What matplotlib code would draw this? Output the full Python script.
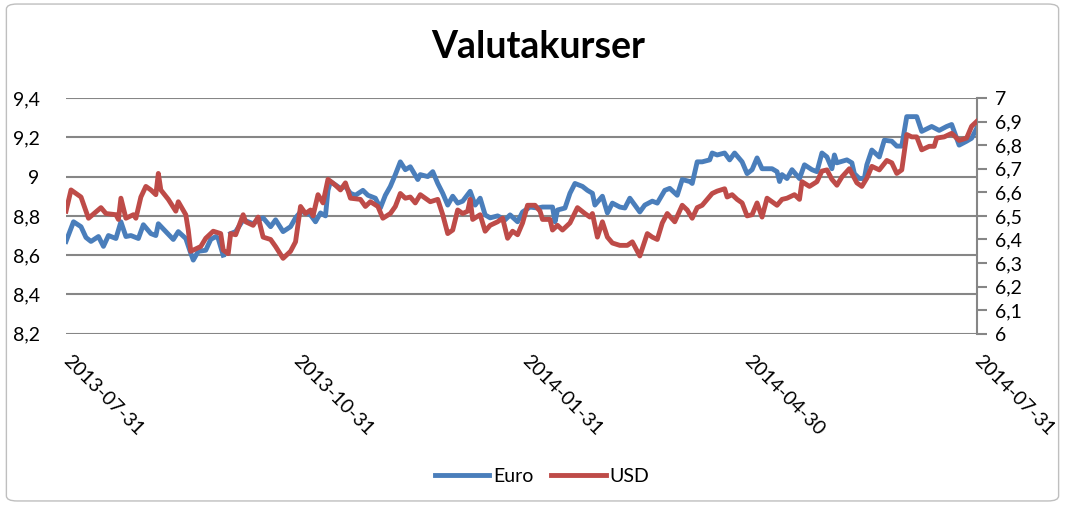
#!/usr/bin/env python3

""" Valutakurser: Euro (left axis) and USD (right axis) in SEK,
    2013-07-31 to 2014-07-31, drawn in the old Excel line-chart style.
"""

import matplotlib

matplotlib.use("Agg")

import matplotlib.pyplot as plt
import matplotlib.dates as mdates
import matplotlib.transforms as mtransforms
from matplotlib.patches import FancyBboxPatch
from matplotlib.ticker import FuncFormatter, MultipleLocator
import numpy as np
import pandas as pd

plt.rcParams["font.family"] = ["Lato", "DejaVu Sans"]

START = "2013-07-31"
tick_dates = ["2013-07-31", "2013-10-31", "2014-01-31", "2014-04-30", "2014-07-31"]

# days after START, and rate (SEK per EUR); nan = missing quote
euro_days = [0, 3, 6, 8, 10, 13, 15, 17, 20, 22, 24, 26, 29, 31, 34, 36, 37, 40,
             43, 45, 48, 50, 51, 53, 56, 58, 60, 61, 63, 64, 66, 68, 71, 75, 77,
             79, 82, 84, 87, 90, 92, 94, 95, 98, 100, 102, 104, 105, 106, 110,
             112, 114, 116, 119, 121, 124, 126, 128, 130, 132, 134, 136, 138,
             141, 142, 145, 147, 149, 151, 153, 155, 157, 159, 162, 164, 166,
             168, 170, 173, 176, 178, 181, 183, 186, 189, 191, 195, 196, 197,
             200, 202, 204, 207, 209, 211, 212, 215, 217, 219, 222, 224, 226,
             228, 230, 232, 235, 237, 240, 242, 245, 247, 250, 251, 253, 255,
             258, 259, 261, 264, 266, 268, 271, 273, 275, 277, 279, 283, 285,
             286, 287, 289, 291, 294, 296, 299, 301, 303, 305, 307, 308, 309,
             313, 315, 316, 318, 320, 321, 323, 326, 328, 331, 333, 335, 337,
             339, 341, 343, 347, 350, 353, 355, 358, 361, 363, 365]
euro = [8.67, 8.77, 8.745, 8.69, 8.67, 8.695, 8.645, 8.70, 8.685, 8.77, 8.695,
        8.70, 8.685, 8.755, 8.71, 8.70, 8.76, 8.72, 8.68, 8.72, 8.685, 8.61,
        8.575, 8.62, 8.625, 8.68, 8.695, 8.685, 8.60, np.nan, 8.71, 8.72, 8.78,
        8.76, 8.78, 8.79, 8.745, 8.78, 8.72, 8.745, 8.79, 8.82, 8.82, 8.805,
        8.77, 8.815, 8.80, 8.93, 8.975, 8.94, 8.95, 8.915, 8.905, 8.93, 8.905,
        8.89, 8.84, 8.905, 8.95, 9.01, 9.075, 9.035, 9.05, 8.985, 9.01, 9.00,
        9.025, 8.965, 8.915, 8.855, 8.90, 8.865, 8.875, 8.925, 8.855, 8.89,
        8.805, 8.79, 8.80, 8.78, 8.805, 8.77, 8.82, 8.845, 8.84, 8.845, 8.845,
        8.77, 8.83, 8.84, 8.915, 8.965, 8.95, 8.93, 8.915, 8.855, 8.90, 8.815,
        8.865, 8.845, 8.84, 8.89, 8.855, 8.82, 8.855, 8.875, 8.865, 8.93, 8.94,
        8.905, 8.985, 8.975, 8.965, 9.075, 9.075, 9.085, 9.12, 9.11, 9.12,
        9.085, 9.12, 9.075, 9.015, 9.035, 9.095, 9.04, 9.04, 9.025, 8.975,
        9.01, 8.99, 9.035, 8.99, 9.06, 9.035, 9.025, 9.12, 9.10, 9.04, 9.11,
        9.07, 9.085, 9.07, 9.015, 8.99, 8.99, 9.06, 9.135, 9.10, 9.185, 9.18,
        9.155, 9.155, 9.305, 9.305, 9.305, 9.23, 9.255, 9.235, 9.255, 9.265,
        9.16, 9.18, 9.195, 9.245]

# days after START, and rate (SEK per USD)
usd_days = [0, 2, 6, 9, 14, 16, 20, 21, 22, 24, 27, 28, 30, 32, 34, 36, 37, 38,
            41, 44, 45, 48, 49, 50, 54, 56, 59, 62, 63, 65, 66, 68, 71, 72, 75,
            77, 79, 82, 84, 87, 90, 92, 94, 96, 98, 99, 101, 103, 105, 108, 110,
            112, 114, 118, 120, 122, 125, 127, 130, 132, 134, 136, 138, 140,
            142, 146, 149, 151, 153, 155, 157, 159, 161, 162, 163, 166, 168,
            170, 173, 175, 177, 179, 181, 183, 185, 188, 190, 191, 194, 195,
            197, 199, 202, 205, 208, 210, 211, 213, 215, 217, 219, 222, 225,
            227, 230, 233, 235, 237, 239, 241, 244, 247, 249, 251, 253, 255,
            259, 261, 264, 265, 267, 269, 271, 273, 275, 277, 279, 281, 285,
            287, 289, 292, 294, 295, 298, 301, 303, 305, 307, 309, 311, 314,
            317, 319, 321, 323, 326, 329, 331, 333, 335, 337, 339, 341, 343,
            346, 348, 349, 352, 355, 358, 361, 363, 365]
usd = [6.52, 6.61, 6.58, 6.49, 6.535, 6.51, 6.505, 6.485, 6.575, 6.49, 6.505,
       6.49, 6.58, 6.625, 6.61, 6.59, 6.68, 6.61, 6.57, 6.52, 6.56, 6.505, 6.44,
       6.35, 6.37, 6.405, 6.435, 6.425, 6.355, 6.34, 6.425, 6.42, 6.505, 6.475,
       6.46, 6.495, 6.41, 6.40, 6.37, 6.32, 6.35, 6.39, 6.54, 6.51, 6.525, 6.50,
       6.59, 6.555, 6.655, 6.63, 6.61, 6.64, 6.575, 6.57, 6.54, 6.56, 6.54,
       6.49, 6.51, 6.54, 6.595, 6.575, 6.58, 6.555, 6.59, 6.56, 6.57, 6.505,
       6.425, 6.44, 6.525, 6.51, 6.52, 6.57, 6.485, 6.505, 6.435, 6.46, 6.475,
       6.49, 6.405, 6.435, 6.42, 6.47, 6.545, 6.545, 6.52, 6.485, 6.485, 6.44,
       6.46, 6.44, 6.47, 6.535, 6.51, 6.495, 6.51, 6.41, 6.475, 6.41, 6.385,
       6.375, 6.375, 6.39, 6.33, 6.425, 6.41, 6.40, 6.47, 6.51, 6.475, 6.545,
       6.525, 6.49, 6.535, 6.545, 6.595, 6.605, 6.615, 6.58, 6.59, 6.57, 6.555,
       6.50, 6.505, 6.555, 6.495, 6.575, 6.545, 6.57, 6.575, 6.59, 6.57, 6.645,
       6.625, 6.645, 6.69, 6.695, 6.655, 6.63, 6.665, 6.70, 6.64, 6.625, 6.66,
       6.71, 6.695, 6.735, 6.725, 6.68, 6.695, 6.845, 6.835, 6.835, 6.78,
       6.795, 6.795, 6.83, 6.835, 6.85, 6.82, 6.83, 6.88, 6.90]

EURO_COLOR = "#4A7EBB"
USD_COLOR = "#BE4B48"
GRID_COLOR = "#868686"


def comma(v, pos):
    return ("%g" % round(v, 2)).replace(".", ",")


start = pd.Timestamp(START)
euro_x = start + pd.to_timedelta(euro_days, unit="D")
usd_x = start + pd.to_timedelta(usd_days, unit="D")

fig = plt.figure(figsize=(10.65, 5.05), dpi=100)
ax = fig.add_axes([0.062, 0.339, 0.855, 0.467])
ax2 = ax.twinx()

l1, = ax.plot(euro_x, euro, color=EURO_COLOR, lw=3.5, solid_joinstyle="round",
              label="Euro", zorder=3)
l2, = ax2.plot(usd_x, usd, color=USD_COLOR, lw=3.5, solid_joinstyle="round",
               label="USD", zorder=3)

ax.set_ylim(8.2, 9.4)
ax.yaxis.set_major_locator(MultipleLocator(0.2))
ax.yaxis.set_major_formatter(FuncFormatter(comma))
ax2.set_ylim(6, 7)
ax2.yaxis.set_major_locator(MultipleLocator(0.1))
ax2.yaxis.set_major_formatter(FuncFormatter(comma))

ax.set_xlim(start, pd.Timestamp(tick_dates[-1]))
ax.set_xticks(pd.to_datetime(tick_dates))
ax.xaxis.set_major_formatter(mdates.DateFormatter("%Y-%m-%d"))

ax.grid(axis="y", color=GRID_COLOR, lw=1.5)
ax.set_axisbelow(True)
for s in ["top", "left", "bottom"]:
    ax.spines[s].set_visible(False)
    ax2.spines[s].set_visible(False)
ax.spines["right"].set_visible(False)
ax2.spines["right"].set_color(GRID_COLOR)
ax2.spines["right"].set_linewidth(1.5)

ax.tick_params(axis="y", length=0, pad=19, labelsize=14)
ax.tick_params(axis="x", length=0, pad=13, labelsize=14)
ax2.tick_params(axis="y", length=7, width=1.5, color=GRID_COLOR, pad=6,
                labelsize=14)
shift = mtransforms.ScaledTranslation(6 / 100, 0, fig.dpi_scale_trans)
for lab in ax.get_xticklabels():
    lab.set_rotation(-45)
    lab.set_ha("left")
    lab.set_va("top")
    lab.set_rotation_mode("anchor")
    lab.set_transform(lab.get_transform() + shift)

fig.text(0.505, 0.907, "Valutakurser", ha="center", va="center",
         fontsize=27, fontweight="bold")

fig.legend([l1, l2], ["Euro", "USD"], loc="center", bbox_to_anchor=(0.509, 0.057),
           ncol=2, frameon=False, fontsize=14, handlelength=2.8,
           handletextpad=0.2, columnspacing=0.9)

border = FancyBboxPatch((0.006, 0.008), 0.988, 0.984,
                        boxstyle="round,pad=0,rounding_size=0.01",
                        transform=fig.transFigure, fill=False,
                        edgecolor="#BFBFBF", lw=1)
fig.patches.append(border)

fig.savefig("out.png", dpi=100)
